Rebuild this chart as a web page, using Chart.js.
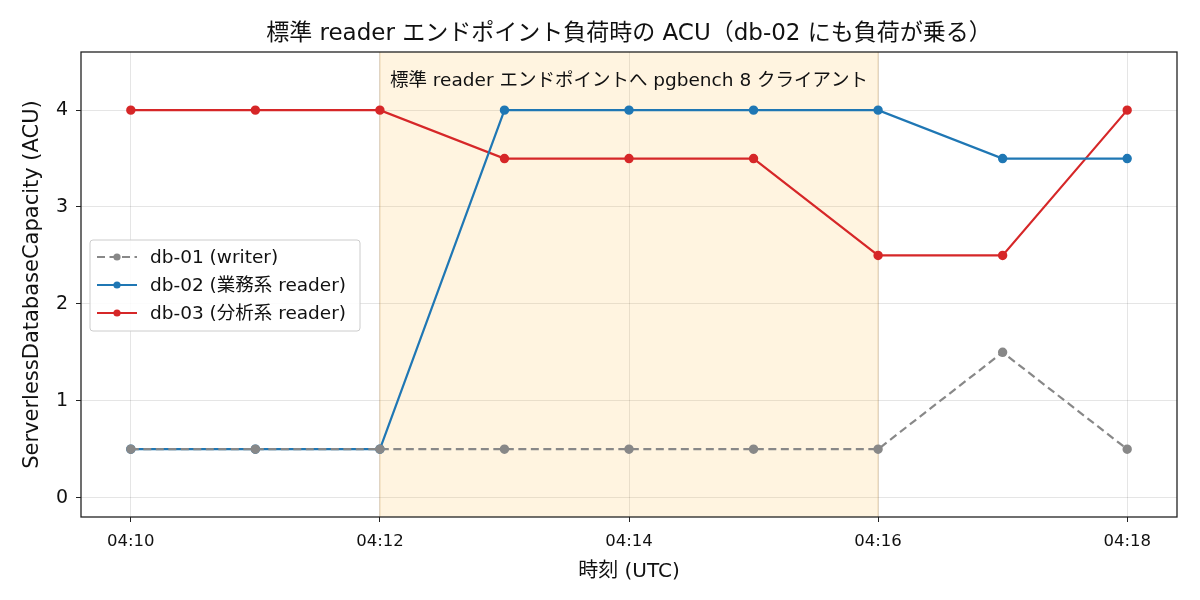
<!DOCTYPE html>
<html>
<head>
<meta charset="utf-8">
<script src="https://cdn.jsdelivr.net/npm/chart.js@4"></script>
<style>
  html, body { margin: 0; padding: 0; background: #fff; }
  #wrap { width: 1200px; height: 600px; }
</style>
</head>
<body>
<div id="wrap"><canvas id="acuChart" width="1200" height="600"></canvas></div>
<script>
const minutos = [0, 1, 2, 3, 4, 5, 6, 7, 8];
const db01 = [0.5, 0.5, 0.5, 0.5, 0.5, 0.5, 0.5, 1.5, 0.5];
const db02 = [0.5, 0.5, 0.5, 4, 4, 4, 4, 3.5, 3.5];
const db03 = [4, 4, 4, 3.5, 3.5, 3.5, 2.5, 2.5, 4];
const etiquetas = ["db-01 (writer)", "db-02 (業務系 reader)", "db-03 (分析系 reader)"];
const xTicks = [0, 2, 4, 6, 8];
const yTicks = [0, 1, 2, 3, 4];
const franja = [2, 6];
const franjaTexto = "標準 reader エンドポイントへ pgbench 8 クライアント";
const titulo = "標準 reader エンドポイント負荷時の ACU（db-02 にも負荷が乗る）";

const FUENTE = "'DejaVu Sans', 'Noto Sans CJK JP', sans-serif";

function puntos(valores) {
  return minutos.map((m, i) => ({ x: m, y: valores[i] }));
}

function fmtHora(v) {
  const m = 10 + v;
  return "04:" + String(m).padStart(2, "0");
}

// franja + texto, titulo, marco y leyenda
const extras = {
  id: "extras",
  beforeDatasetsDraw(chart) {
    const { ctx, chartArea, scales } = chart;
    const x1 = scales.x.getPixelForValue(franja[0]);
    const x2 = scales.x.getPixelForValue(franja[1]);
    ctx.save();
    ctx.fillStyle = "rgba(255,165,0,0.12)";
    ctx.fillRect(x1, chartArea.top, x2 - x1, chartArea.bottom - chartArea.top);
    ctx.strokeStyle = "rgba(205,160,90,0.35)";
    ctx.lineWidth = 1.2;
    [x1, x2].forEach(x => {
      ctx.beginPath();
      ctx.moveTo(x, chartArea.top);
      ctx.lineTo(x, chartArea.bottom);
      ctx.stroke();
    });
    ctx.fillStyle = "#111";
    ctx.font = "18.5px " + FUENTE;
    ctx.textAlign = "center";
    ctx.textBaseline = "middle";
    ctx.fillText(franjaTexto, (x1 + x2) / 2, chartArea.top + 29);
    ctx.restore();
  },
  afterDraw(chart) {
    const { ctx, chartArea } = chart;
    ctx.save();
    // marco
    ctx.strokeStyle = "#222";
    ctx.lineWidth = 1.3;
    ctx.strokeRect(chartArea.left, chartArea.top, chartArea.right - chartArea.left, chartArea.bottom - chartArea.top);
    // titulo
    ctx.fillStyle = "#111";
    ctx.font = "23px " + FUENTE;
    ctx.textAlign = "center";
    ctx.textBaseline = "middle";
    ctx.fillText(titulo, (chartArea.left + chartArea.right) / 2, 34);
    // leyenda
    const lx = 90, ly = 240, lw = 270, lh = 91;
    ctx.fillStyle = "rgba(255,255,255,0.85)";
    ctx.strokeStyle = "#ccc";
    ctx.lineWidth = 1;
    ctx.beginPath();
    ctx.roundRect(lx, ly, lw, lh, 3);
    ctx.fill();
    ctx.stroke();
    ctx.font = "18.5px " + FUENTE;
    ctx.textAlign = "left";
    ctx.textBaseline = "middle";
    chart.data.datasets.forEach((ds, i) => {
      const y = ly + 17 + i * 28;
      ctx.strokeStyle = ds.borderColor;
      ctx.lineWidth = 2.2;
      ctx.setLineDash(ds.borderDash || []);
      ctx.beginPath();
      ctx.moveTo(lx + 7, y);
      ctx.lineTo(lx + 47, y);
      ctx.stroke();
      ctx.setLineDash([]);
      ctx.fillStyle = ds.borderColor;
      ctx.beginPath();
      ctx.arc(lx + 27, y, 3.6, 0, Math.PI * 2);
      ctx.fill();
      ctx.fillStyle = "#111";
      ctx.fillText(ds.label, lx + 60, y + 1);
    });
    ctx.restore();
  }
};

const estilo = (color, dash) => ({
  borderColor: color,
  backgroundColor: color,
  borderWidth: 2.2,
  borderDash: dash,
  pointRadius: 3.6,
  pointHoverRadius: 3.6,
  tension: 0
});

new Chart(document.getElementById("acuChart"), {
  type: "line",
  data: {
    datasets: [
      { label: etiquetas[0], data: puntos(db01), ...estilo("#888888", [8, 4.5]) },
      { label: etiquetas[1], data: puntos(db02), ...estilo("#1f77b4", []) },
      { label: etiquetas[2], data: puntos(db03), ...estilo("#d62728", []) }
    ]
  },
  options: {
    responsive: false,
    animation: false,
    layout: { padding: { top: 52, right: 23, left: 18, bottom: 14 } },
    plugins: {
      legend: { display: false },
      tooltip: { enabled: false }
    },
    scales: {
      x: {
        type: "linear",
        min: -0.4,
        max: 8.4,
        afterBuildTicks: s => { s.ticks = xTicks.map(v => ({ value: v })); },
        afterFit: s => { s.height = 69; },
        ticks: {
          callback: v => fmtHora(v),
          color: "#111",
          font: { family: FUENTE, size: 16.5 },
          maxRotation: 0,
          padding: 10
        },
        grid: { color: "rgba(0,0,0,0.1)", tickColor: "#222", tickLength: 5, drawTicks: true },
        border: { display: false },
        title: {
          display: true,
          text: "時刻 (UTC)",
          color: "#111",
          font: { family: FUENTE, size: 20 },
          padding: { top: 4, bottom: 2 }
        }
      },
      y: {
        min: -0.2,
        max: 4.6,
        afterBuildTicks: s => { s.ticks = yTicks.map(v => ({ value: v })); },
        afterFit: s => { s.width = 63; },
        ticks: {
          color: "#111",
          font: { family: FUENTE, size: 19 },
          padding: 8
        },
        grid: { color: "rgba(0,0,0,0.1)", tickColor: "#222", tickLength: 5 },
        border: { display: false },
        title: {
          display: true,
          text: "ServerlessDatabaseCapacity (ACU)",
          color: "#111",
          font: { family: FUENTE, size: 21 },
          padding: { top: 2, bottom: 2 }
        }
      }
    }
  },
  plugins: [extras]
});
</script>
</body>
</html>
